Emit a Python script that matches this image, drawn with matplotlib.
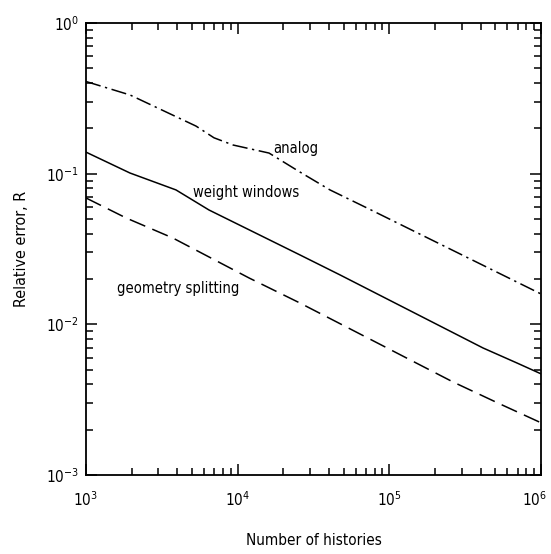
import math
import matplotlib
matplotlib.use("Agg")
import matplotlib.pyplot as plt
import matplotlib.transforms as mtransforms
from matplotlib.ticker import LogLocator, FuncFormatter, NullFormatter

plt.rcParams['font.family'] = ['DejaVu Sans']
plt.rcParams['font.stretch'] = 'condensed'

# values (number of histories vs relative error)
analog_n = [1000, 1950, 5310, 6980, 9310, 16100, 25700, 40600, 71200, 1000000]
analog_r = [0.409, 0.333, 0.207, 0.173, 0.155, 0.137, 0.1026, 0.078, 0.0592, 0.0159]

ww_n = [1000, 1950, 3920, 6470, 25700, 47200, 414000, 693000, 1000000]
ww_r = [0.139, 0.101, 0.078, 0.0574, 0.0289, 0.0213, 0.00697, 0.00554, 0.00469]

geo_n = [1000, 1840, 3740, 11900, 25700, 262000, 536000, 1000000]
geo_r = [0.069, 0.0508, 0.0374, 0.0203, 0.01386, 0.00415, 0.00296, 0.00222]

labels = ["analog", "weight windows", "geometry splitting"]
label_pos = [(17100, 0.146), (5070, 0.075), (1600, 0.0174)]

fig = plt.figure(figsize=(5.51, 5.54), dpi=100)
ax = fig.add_axes([0.156, 0.1426, 0.826, 0.8159])

ax.plot(analog_n, analog_r, color='black', lw=1.1, dashes=(10, 3, 1.5, 3))
ax.plot(ww_n, ww_r, color='black', lw=1.1)
ax.plot(geo_n, geo_r, color='black', lw=1.1, dashes=(11, 5))

for txt, (x, y) in zip(labels, label_pos):
    ax.text(x, y, txt, fontsize=10.5, ha='left', va='center')

ax.set_xscale('log')
ax.set_yscale('log')
ax.set_xlim(1e3, 1e6)
ax.set_ylim(1e-3, 1)


def pow10(v, p):
    return r'$\mathregular{10^{%d}}$' % round(math.log10(v))


def pow10_x(v, p):
    # the right-most label is drawn by hand, slightly shifted left
    if v >= ax.get_xlim()[1] * 0.999:
        return ''
    return pow10(v, p)


for axis, f in ((ax.xaxis, pow10_x), (ax.yaxis, pow10)):
    axis.set_major_locator(LogLocator(base=10, numticks=10))
    axis.set_minor_locator(LogLocator(base=10, subs=range(2, 10), numticks=10))
    axis.set_major_formatter(FuncFormatter(f))
    axis.set_minor_formatter(NullFormatter())

ax.tick_params(which='both', direction='in', top=True, right=True, width=1.1, labelsize=11)
ax.tick_params(which='major', length=8)
ax.tick_params(which='minor', length=5)
ax.tick_params(axis='x', which='major', pad=11)
ax.tick_params(axis='y', which='major', pad=5)
for s in ax.spines.values():
    s.set_linewidth(1.3)

xmax = ax.get_xlim()[1]
shift = mtransforms.ScaledTranslation(-5 / 72, -11 / 72, fig.dpi_scale_trans)
ax.text(xmax, 0, pow10(xmax, None), fontsize=11, ha='center', va='top',
        transform=ax.get_xaxis_transform() + shift)

ax.set_xlabel("Number of histories", fontsize=11, labelpad=17)
ax.set_ylabel("Relative error, R", fontsize=11.5, labelpad=12)

fig.savefig("out.png", dpi=100)
